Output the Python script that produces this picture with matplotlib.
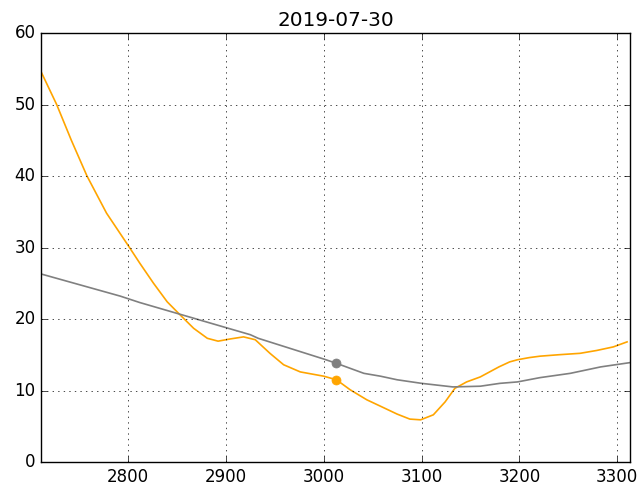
import matplotlib
matplotlib.use("Agg")
import matplotlib.pyplot as plt

plt.style.use("classic")

title = "2019-07-30"

strike_orange = [2711, 2727, 2742, 2758, 2778, 2800, 2812, 2826, 2840, 2853, 2867, 2881,
                 2892, 2904, 2918, 2930, 2945, 2959, 2976, 3000, 3013, 3027, 3044, 3058,
                 3075, 3088, 3099, 3112, 3124, 3134, 3146, 3160, 3179, 3190, 3198, 3210,
                 3221, 3240, 3262, 3279, 3296, 3310]
iv_orange = [54.6, 50.0, 45.0, 40.0, 34.8, 30.3, 27.8, 25.0, 22.4, 20.6, 18.7, 17.3,
             16.9, 17.2, 17.5, 17.1, 15.2, 13.6, 12.6, 12.0, 11.5, 10.1, 8.7, 7.8,
             6.7, 6.0, 5.9, 6.6, 8.4, 10.3, 11.2, 11.9, 13.3, 14.0, 14.3, 14.6,
             14.8, 15.0, 15.2, 15.6, 16.1, 16.8]

strike_gray = [2711, 2792, 2812, 2925, 2933, 3000, 3013, 3041, 3058, 3075, 3100, 3132,
               3160, 3180, 3198, 3221, 3252, 3283, 3313]
iv_gray = [26.3, 23.2, 22.3, 17.8, 17.3, 14.4, 13.8, 12.4, 12.0, 11.5, 11.0, 10.5,
           10.6, 11.0, 11.2, 11.8, 12.4, 13.3, 13.9]

atm_strike = 3013
atm_orange = 11.5
atm_gray = 13.8

fig = plt.figure(figsize=(6.39, 4.87), dpi=100, facecolor="white")
ax = fig.add_axes([41 / 639, 25 / 487, 589 / 639, 429 / 487])

ax.plot(strike_orange, iv_orange, color="orange", lw=1.2)
ax.plot(strike_gray, iv_gray, color="gray", lw=1.2)
ax.plot([atm_strike], [atm_gray], "o", color="gray", mec="gray", ms=6.5)
ax.plot([atm_strike], [atm_orange], "o", color="orange", mec="orange", ms=6.5)

ax.set_xlim(2711, 3313)
ax.set_ylim(0, 60)
ax.set_xticks([2800, 2900, 3000, 3100, 3200, 3300])
ax.set_yticks([0, 10, 20, 30, 40, 50, 60])
ax.grid(True)
ax.set_title(title, fontsize=14.4)

fig.savefig("out.png", dpi=100, facecolor="white")
